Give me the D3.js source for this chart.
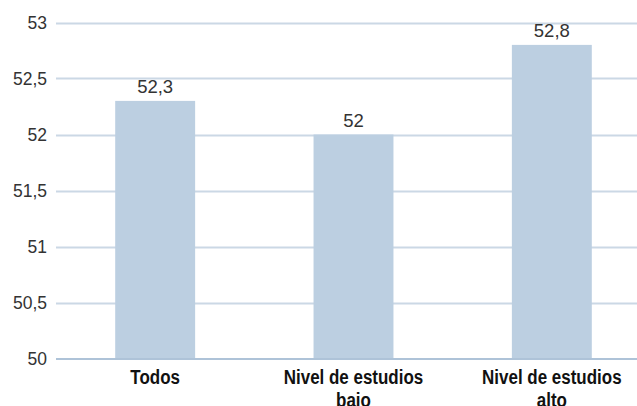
<!DOCTYPE html>
<html><head><meta charset="utf-8">
<script src="https://cdn.jsdelivr.net/npm/d3@7/dist/d3.min.js"></script>
<style>
html,body{margin:0;padding:0;background:#fff;overflow:hidden}
svg{display:block}
</style></head>
<body>
<script>
const categories = ["Todos", "Nivel de estudios bajo", "Nivel de estudios alto"];
const categoryLines = [["Todos"], ["Nivel de estudios", "bajo"], ["Nivel de estudios", "alto"]];
const values = [52.3, 52.0, 52.8];
const valueLabels = ["52,3", "52", "52,8"];
const yTicks = [50, 50.5, 51, 51.5, 52, 52.5, 53];
const yTickLabels = ["50", "50,5", "51", "51,5", "52", "52,5", "53"];

const W = 637, H = 406;
const svg = d3.select("body").append("svg").attr("width", W).attr("height", H);

const x = d3.scaleBand().domain(categories).range([56, 651]).paddingInner(0.597).paddingOuter(0.2985);
const y = d3.scaleLinear().domain([50, 53]).range([358.5, 22.5]);

const gridColor = "#cbd8e5";
svg.append("g").selectAll("line").data(yTicks.filter(d => d !== 50)).join("line")
  .attr("x1", 56).attr("x2", W)
  .attr("y1", d => Math.round(y(d)) + 0.5).attr("y2", d => Math.round(y(d)) + 0.5)
  .attr("stroke", gridColor).attr("stroke-width", 2);

svg.append("g").selectAll("text").data(yTicks).join("text")
  .attr("x", 47).attr("y", d => y(d))
  .attr("dy", "0.36em")
  .attr("text-anchor", "end")
  .attr("font-family", "'Liberation Sans', Arial, sans-serif")
  .attr("font-size", 17.5)
  .attr("fill", "#333")
  .text((d, i) => yTickLabels[i]);

svg.append("g").selectAll("rect").data(values).join("rect")
  .attr("x", (d, i) => x(categories[i]))
  .attr("width", x.bandwidth())
  .attr("y", d => y(d))
  .attr("height", d => y(50) - y(d))
  .attr("fill", "#bccfe1");

svg.append("line").attr("x1", 56).attr("x2", W)
  .attr("y1", Math.round(y(50))).attr("y2", Math.round(y(50)))
  .attr("stroke", "#aec3d8").attr("stroke-width", 2);

svg.append("g").selectAll("text").data(values).join("text")
  .attr("x", (d, i) => x(categories[i]) + x.bandwidth() / 2)
  .attr("y", d => y(d) - 8)
  .attr("text-anchor", "middle")
  .attr("font-family", "'Liberation Sans', Arial, sans-serif")
  .attr("font-size", 18.5)
  .attr("fill", "#333")
  .text((d, i) => valueLabels[i]);

const cl = svg.append("g").selectAll("text").data(categories).join("text")
  .attr("transform", (d, i) => `translate(${x(d) + x.bandwidth() / 2},384) scale(0.87,1)`)
  .attr("text-anchor", "middle")
  .attr("font-family", "'Liberation Sans', Arial, sans-serif")
  .attr("font-weight", "bold")
  .attr("font-size", 19.5)
  .attr("fill", "#111");
cl.each(function(d, i) {
  const t = d3.select(this);
  categoryLines[i].forEach((ln, j) => {
    t.append("tspan").attr("x", 0).attr("dy", j === 0 ? 0 : 23).text(ln);
  });
});
</script>
</body></html>
